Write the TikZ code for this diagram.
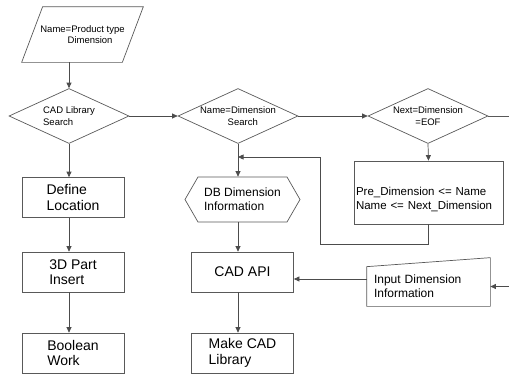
\documentclass[tikz,border=0pt]{standalone}
\usepackage{fontspec}
\setmainfont{Liberation Sans}
\usetikzlibrary{shapes.geometric,shapes.symbols,arrows.meta}

\begin{document}
\begin{tikzpicture}[x=1pt, y=-1pt, line width=0.7pt,
	font=\fontsize{14}{15.5}\selectfont,
	line/.style={draw=black!65},
	arr/.style={draw=black!70, -{Triangle[length=5.5pt,width=5pt]}},
	box/.style={line, rectangle, inner sep=0pt, minimum width=102pt, minimum height=40pt, align=left},
	decision/.style={line, diamond, aspect=2.2, inner sep=0pt, minimum width=120pt, minimum height=55pt, align=center, font=\fontsize{9.5}{11.5}\selectfont},
	small/.style={font=\fontsize{12}{14}\selectfont}]
	\useasboundingbox (0,0) rectangle (509,373);
	\clip (0,0) rectangle (509,373);
	
	%start
	\node[inner sep=0pt, minimum width=100pt, minimum height=55pt, align=center, font=\fontsize{9.5}{11.5}\selectfont] (start) at (82.5,34.5) {Name=Product type\\\hspace*{1.6em}Dimension};
	\draw[line] ([xshift=-10.5pt]start.south west) -- ([xshift=-10.5pt]start.south east) -- ([xshift=10.5pt]start.north east) -- ([xshift=10.5pt]start.north west) -- cycle;
	
	%decisions
	\node[decision, align=left] (d1) at (69,116) {CAD Library\\Search};
	\node[decision] (d2) at (238,116) {Name=Dimension\\\hspace*{1em}Search};
	\node[decision] (d3) at (428,116) {Next=Dimension\\=EOF};
	
	%left column
	\node[box] (loc) at (73,197.5) {Define\\Location};
	\node[box] (ins) at (73,272) {3D Part\\Insert};
	\node[box] (bool) at (73,353) {Boolean\\Work};
	
	%middle column
	\node[line, signal, signal to=west and east, signal pointer angle=120, small, minimum width=115pt, minimum height=45pt, inner sep=0pt, align=left] (db) at (242.5,199.5) {DB Dimension\\Information};
	\node[box, align=center] (api) at (242.5,272) {CAD API};
	\node[box] (make) at (242.5,353) {Make CAD\\Library};
	
	%right column
	\node[box, font=\fontsize{11.5}{14}\selectfont, minimum width=149pt, minimum height=63pt, text width=145pt, inner xsep=2pt] (upd) at (428.5,192.5) {\rule{0pt}{23pt}Pre\_Dimension <= Name\\Name <= Next\_Dimension};
	\node[small, inner xsep=7pt, inner ysep=0pt, text width=109pt, minimum height=39pt, align=left] (dimin) at (428.5,286.5) {Input Dimension\\Information};
	\draw[line] (dimin.south west) -- (dimin.north west) -- ([yshift=9pt]dimin.north east) -- (dimin.south east) -- cycle;
	
	%helper points
	\coordinate (loop) at (320,157);
	\coordinate (inlvl) at (0,279);
	\coordinate (right1) at (512,116);
	\coordinate (right2) at (512,286.5);
	
	%arrows
	\draw[arr] (d1 |- start.south) -- (d1.north);
	\draw[arr] (d1.east) -- (d2.west);
	\draw[arr] (d2.east) -- (d3.west);
	\draw[line] (d3.east) -- (right1);
	\draw[arr] (d1.south) -- (d1 |- loc.north);
	\draw[arr] (d1 |- loc.south) -- (d1 |- ins.north);
	\draw[arr] (d1 |- ins.south) -- (d1 |- bool.north);
	\draw[arr] (d2.south) -- (d2 |- db.north);
	\draw[arr] (d2 |- db.south) -- (d2 |- api.north);
	\draw[arr] (d2 |- api.south) -- (d2 |- make.north);
	\draw[arr] (d3.south) -- (upd.north);
	\draw[arr] (upd.south) -- ++(0,20) -| (loop) -- (loop -| d2.south);
	\draw[arr] (dimin.west |- inlvl) -- (api.east |- inlvl);
	\draw[arr] (right2) -- (dimin.east);
\end{tikzpicture}
\end{document}
